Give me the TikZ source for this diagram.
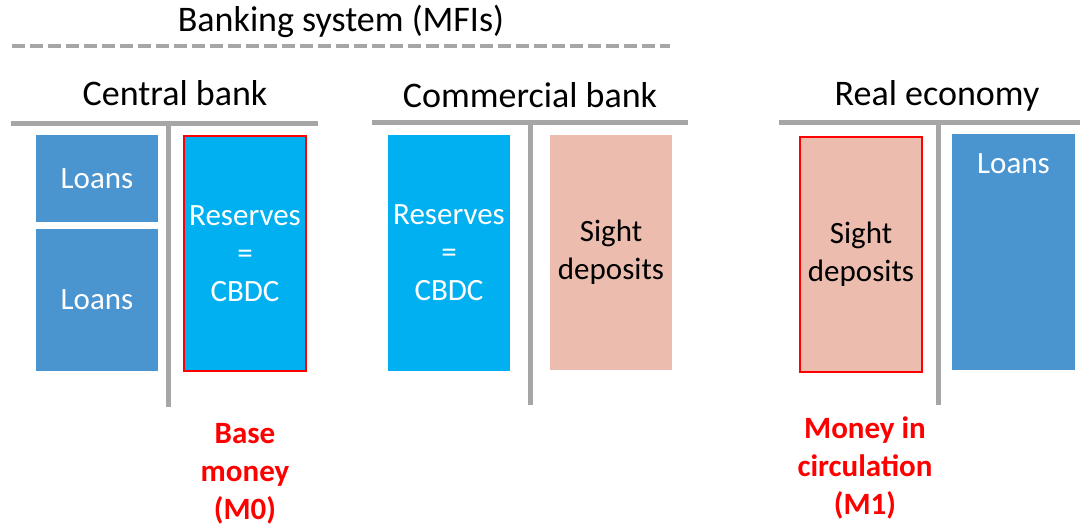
\documentclass[tikz,border=0pt]{standalone}
\usepackage{fontspec}
\setmainfont{Carlito}

\definecolor{loanblue}{RGB}{74,148,208}
\definecolor{cbdccyan}{RGB}{0,176,240}
\definecolor{sightpink}{RGB}{236,188,174}
\definecolor{tgray}{RGB}{166,166,166}
\definecolor{mred}{RGB}{255,0,0}

\tikzset{
  tline/.style={draw=tgray, line width=5pt},
  acct/.style={inner sep=0pt, align=center, minimum width=122pt,
    font=\fontsize{31}{38}\selectfont},
  loanbox/.style={acct, fill=loanblue, text=white},
  cbdcbox/.style={acct, fill=cbdccyan, text=white},
  sightbox/.style={acct, fill=sightpink, text=black},
  moneyframe/.style={draw=mred, line width=2.5pt},
  heading/.style={anchor=base, font=\fontsize{36}{43}\selectfont},
  aggregate/.style={text=mred, align=center,
    font=\bfseries\fontsize{31}{38}\selectfont},
}

\begin{document}
\begin{tikzpicture}[x=1pt, y=-1pt]
\useasboundingbox (0,0) rectangle (1082,527);

% banking system
\node[heading] (banks) at (341,32) {Banking system (MFIs)};
\draw[tgray, line width=4.5pt, dash pattern=on 13pt off 5pt] (12,46) -- (670,46);

% central bank
\begin{scope}
  \node[heading] (cbTitle) at (175,106) {Central bank};
  \draw[tline] (11,123) -- (318,123);
  \draw[tline] (168,123) -- (168,407);
  \node[loanbox, minimum height=87pt]  (cbLoansA) at (97,178.5) {Loans};
  \node[loanbox, minimum height=142pt] (cbLoansB) at (97,300) {Loans};
  \node[cbdcbox, moneyframe, minimum height=235pt] (cbRes) at (245,253.5)
    {Reserves\\=\\CBDC};
  \node[aggregate] (mZero) at (245,474) {Base\\money\\(M0)};
\end{scope}

% commercial bank
\begin{scope}
  \node[heading] (cobTitle) at (530,107) {Commercial bank};
  \draw[tline] (372,122) -- (688,122);
  \draw[tline] (530,122) -- (530,405);
  \node[cbdcbox, minimum height=236pt] (cobRes) at (449,253)
    {Reserves\\=\\CBDC};
  \node[sightbox, minimum height=235pt] (cobSight) at (611,252.5)
    {Sight\\deposits};
\end{scope}

% real economy
\begin{scope}
  \node[heading] (reTitle) at (937,106) {Real economy};
  \draw[tline] (779,122) -- (1080,122);
  \draw[tline] (938,122) -- (938,405);
  \node[sightbox, moneyframe, minimum height=235pt] (reSight) at (861,254.5)
    {Sight\\deposits};
  \node[loanbox, minimum width=123pt, minimum height=236pt] (reLoans) at (1013.5,252) {};
  \node[acct, text=white] (reLoansText) at (1013.5,164) {Loans};
  \node[aggregate] (mOne) at (865,468) {Money in\\circulation\\(M1)};
\end{scope}

\end{tikzpicture}
\end{document}
